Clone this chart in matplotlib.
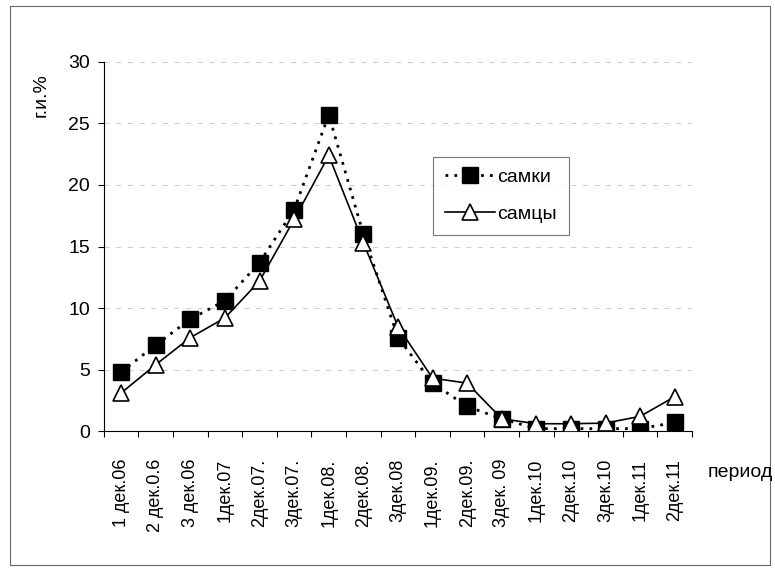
import matplotlib
matplotlib.use("Agg")
import matplotlib.pyplot as plt
from matplotlib.patches import Rectangle

periods = ["1 дек.06", "2 дек.0.6", "3 дек.06", "1дек.07", "2дек.07.", "3дек.07.",
           "1дек.08.", "2дек.08.", "3дек.08", "1дек.09.", "2дек.09.", "3дек. 09",
           "1дек.10", "2дек.10", "3дек.10", "1дек.11", "2дек.11"]
samki = [4.8, 7.0, 9.1, 10.6, 13.7, 18.0, 25.7, 16.0, 7.6, 3.9, 2.0, 1.0,
         0.2, 0.2, 0.2, 0.2, 0.7]
samcy = [3.1, 5.4, 7.6, 9.2, 12.2, 17.2, 22.4, 15.3, 8.5, 4.3, 3.9, 1.0,
         0.6, 0.6, 0.65, 1.2, 2.8]
yticks = [0, 5, 10, 15, 20, 25, 30]

plt.rcParams["font.family"] = ["Liberation Sans", "DejaVu Sans"]

fig = plt.figure(figsize=(7.75, 5.68), dpi=100)
ax = fig.add_axes([0.134, 0.241, 0.759, 0.650])

x = list(range(len(periods)))
ax.plot(x, samki, linestyle=(0, (1, 2.2)), color="black", linewidth=2.0,
        marker="s", markersize=11, markerfacecolor="black",
        markeredgecolor="black", label="самки", zorder=3)
ax.plot(x, samcy, linestyle="-", color="black", linewidth=1.2,
        marker="^", markersize=12, markerfacecolor="white",
        markeredgecolor="black", markeredgewidth=1.2, label="самцы", zorder=4)

ax.set_xlim(-0.5, len(periods) - 0.5)
ax.set_ylim(0, 30)
ax.set_yticks(yticks)
ax.set_yticklabels([str(v) for v in yticks], fontsize=14)
ax.set_xticks([i + 0.5 for i in range(-1, len(periods))], minor=False)
ax.set_xticklabels([])
ax.set_xticks(x, minor=True)
ax.set_xticklabels(periods, minor=True, rotation=90, fontsize=13)
ax.tick_params(axis="x", which="minor", length=0, pad=20)
ax.tick_params(axis="x", which="major", length=4, direction="out", width=0.8)
ax.tick_params(axis="y", length=4, direction="out", width=0.8, pad=6)

for y in yticks[1:]:
    ax.axhline(y, color="#c4c4c4", linewidth=0.6, linestyle=(0, (6, 8)), zorder=1)

for side in ("top", "right"):
    ax.spines[side].set_visible(False)
ax.spines["left"].set_linewidth(0.8)
ax.spines["bottom"].set_linewidth(0.8)

ax.set_ylabel("г.и.%", fontsize=14, labelpad=0)
ax.yaxis.set_label_coords(-0.093, 0.91)
fig.text(0.955, 0.168, "период", fontsize=14, ha="center", va="center")

leg = ax.legend(loc="upper left", bbox_to_anchor=(0.56, 0.743),
                fontsize=14, frameon=True, fancybox=False, edgecolor="#555555",
                handlelength=2.6, handletextpad=0.1, borderpad=0.6,
                labelspacing=1.0, borderaxespad=0)
leg.get_frame().set_linewidth(0.8)

fig.patches.append(Rectangle((0.013, 0.005), 0.98, 0.985, transform=fig.transFigure,
                             fill=False, edgecolor="#666666", linewidth=0.8))

fig.savefig("out.png", dpi=100, facecolor="white")
